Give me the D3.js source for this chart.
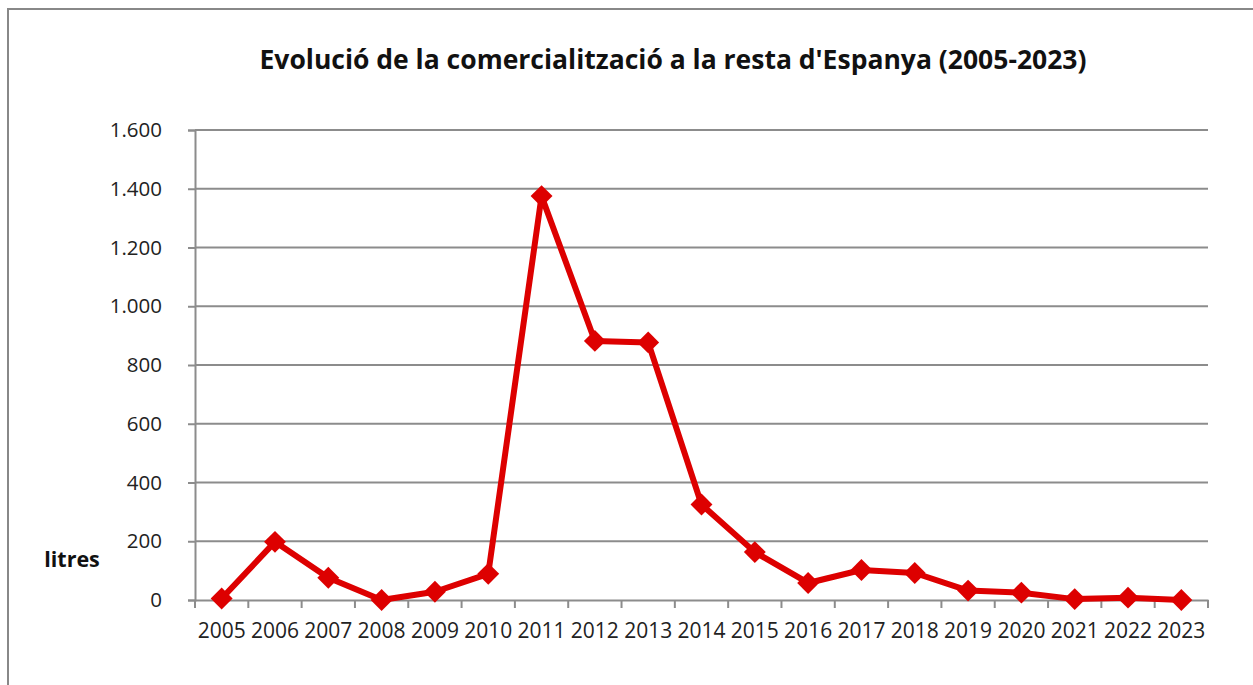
<!DOCTYPE html>
<html><head><meta charset="utf-8">
<script src="https://cdn.jsdelivr.net/npm/d3@7"></script>
<style>body{margin:0;background:#fff;}svg{display:block;font-family:"Open Sans",sans-serif;}</style>
</head><body>
<svg id="c" width="1253" height="685"></svg>
<script>
const years = ["2005","2006","2007","2008","2009","2010","2011","2012","2013","2014","2015","2016","2017","2018","2019","2020","2021","2022","2023"];
const litres = [5,198,76,0,28,89,1375,882,877,325,163,58,102,92,32,25,3,8,0];
const yTicks = [0,200,400,600,800,1000,1200,1400,1600];
const titleText = "Evolució de la comercialització a la resta d'Espanya (2005-2023)";
const yLabel = "litres";

const svg = d3.select("#c");
const m = {l:195, r:1208, t:130, b:600};
const x = d3.scaleBand().domain(years).range([m.l, m.r]);
const y = d3.scaleLinear().domain([0,1600]).range([m.b, m.t]);
const fmt = v => d3.format(",")(v).replace(/,/g, ".");

svg.append("rect").attr("x",8).attr("y",9).attr("width",1260).attr("height",700)
  .attr("fill","none").attr("stroke","#888").attr("stroke-width",2);

svg.append("text").attr("x",673).attr("y",69).attr("text-anchor","middle")
  .attr("font-size",26.5).attr("font-weight","bold").attr("fill","#111").text(titleText);

svg.append("g").selectAll("line").data(yTicks.filter(d=>d>0)).join("line")
  .attr("x1",m.l).attr("x2",m.r).attr("y1",d=>y(d)).attr("y2",d=>y(d))
  .attr("stroke","#8c8c8c").attr("stroke-width",2);

const ya = svg.append("g").attr("transform",`translate(${m.l},0)`)
  .call(d3.axisLeft(y).tickValues(yTicks).tickFormat(fmt).tickSize(7).tickPadding(26));
ya.select(".domain").attr("stroke","#8c8c8c").attr("stroke-width",2);
ya.selectAll(".tick line").attr("stroke","#8c8c8c").attr("stroke-width",2);
ya.selectAll("text").attr("font-size",20.5).attr("fill","#222").attr("font-family","Open Sans");

const xa = svg.append("g").attr("transform",`translate(0,${m.b})`)
  .call(d3.axisBottom(x).tickSize(0).tickPadding(23));
xa.select(".domain").attr("stroke","#8c8c8c").attr("stroke-width",2);
xa.selectAll("text").attr("font-size",21).attr("fill","#222").attr("font-family","Open Sans");
const bounds = years.map(d=>x(d)).concat([m.r]);
svg.append("g").selectAll("line").data(bounds).join("line")
  .attr("x1",d=>d).attr("x2",d=>d).attr("y1",m.b).attr("y2",m.b+8)
  .attr("stroke","#8c8c8c").attr("stroke-width",2);

svg.append("text").attr("x",72).attr("y",567).attr("text-anchor","middle")
  .attr("font-size",21.5).attr("font-weight","bold").attr("fill","#111").text(yLabel);

const cx = (d,i) => x(years[i]) + x.bandwidth()/2;
svg.append("path").datum(litres)
  .attr("d", d3.line().x(cx).y(d=>y(d)))
  .attr("fill","none").attr("stroke","#dd0000").attr("stroke-width",6).attr("stroke-linejoin","round");

svg.append("g").selectAll("path").data(litres).join("path")
  .attr("transform",(d,i)=>`translate(${cx(d,i)},${y(d)}) rotate(45)`)
  .attr("d", d3.symbol().type(d3.symbolSquare).size(240))
  .attr("fill","#dd0000");
</script>
</body></html>
